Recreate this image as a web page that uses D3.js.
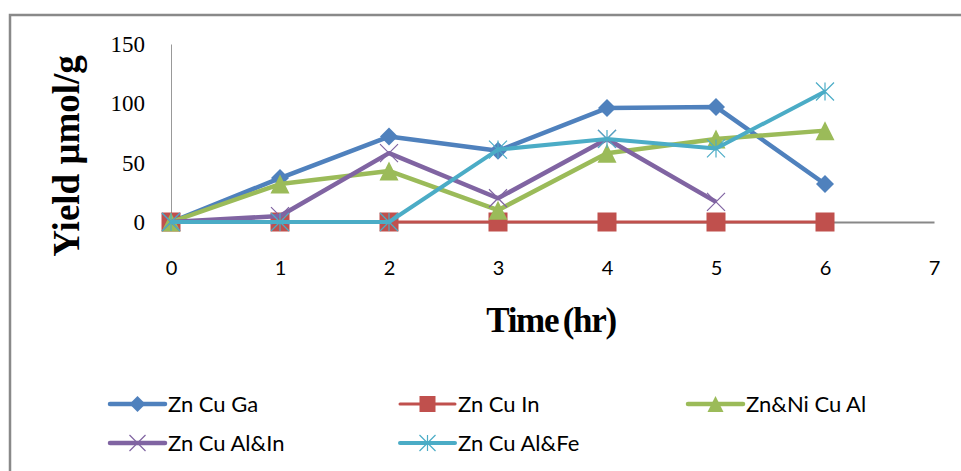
<!DOCTYPE html>
<html><head><meta charset="utf-8">
<script src="https://cdn.jsdelivr.net/npm/d3@7"></script>
<style>body{margin:0;background:#fff;}svg{display:block;}</style>
</head><body>
<script>
const times = [0,1,2,3,4,5,6];
const xTicks = [0,1,2,3,4,5,6,7];
const yTicks = [0,50,100,150];
const seriesNames = ["Zn Cu Ga","Zn Cu In","Zn&Ni Cu Al","Zn Cu Al&In","Zn Cu Al&Fe"];
const znCuGa   = [0,37,72,60,96,97,32];
const znCuIn   = [0,0,0,0,0,0,0];
const znNiCuAl = [0,32,43,10,58,70,77];
const znCuAlIn = [0,5,58,20,70,17];
const znCuAlFe = [0,0,0,61,70,62,110];
const colors = ["#4F81BD","#C0504D","#9BBB59","#8064A2","#4BACC6"];
const markers = ["diamond","square","triangle","x","star"];
const widths = [4.5,3,4.5,4.5,4];

const W=961,H=471;
const svg=d3.select("body").append("svg").attr("width",W).attr("height",H);
svg.append("path").attr("d","M10,472 L10,15 L962,15").attr("fill","none").attr("stroke","#898989").attr("stroke-width",2.5);

const x=d3.scaleLinear().domain([0,7]).range([171,934]);
const y=d3.scaleLinear().domain([0,150]).range([222,44]);

const yAx=svg.append("g").attr("transform","translate(171,0)").call(d3.axisLeft(y).tickValues(yTicks).tickFormat(d3.format("d")).tickSize(0).tickPadding(26));
yAx.select(".domain").attr("stroke","#999").attr("stroke-width",1);
yAx.selectAll("text").attr("font-family","Liberation Serif").attr("font-size",23).attr("fill","#000");
const xAx=svg.append("g").attr("transform","translate(0,222)").call(d3.axisBottom(x).tickValues(xTicks).tickFormat(d3.format("d")).tickSize(0).tickPadding(39));
xAx.select(".domain").attr("stroke","#888").attr("stroke-width",2);
xAx.selectAll("text").attr("font-family","Lato").attr("font-size",20).attr("fill","#000");

svg.append("text").attr("transform","translate(79,156) rotate(-90)").attr("text-anchor","middle")
  .attr("font-family","Liberation Serif").attr("font-weight","bold").attr("font-size",37).text("Yield μmol/g");
svg.append("text").attr("x",551).attr("y",332).attr("text-anchor","middle")
  .attr("font-family","Liberation Serif").attr("font-weight","bold").attr("font-size",35).attr("letter-spacing",-1.3).attr("word-spacing",-3).text("Time (hr)");

const data=[znCuGa,znCuIn,znNiCuAl,znCuAlIn,znCuAlFe];
function drawMarker(g,type,cx,cy,col,s){
  if(type==="diamond"){
    g.append("path").attr("d",`M${cx},${cy-s/2}L${cx+s/2},${cy}L${cx},${cy+s/2}L${cx-s/2},${cy}Z`).attr("fill",col);
  } else if(type==="square"){
    g.append("rect").attr("x",cx-s/2).attr("y",cy-s/2).attr("width",s).attr("height",s).attr("fill",col);
  } else if(type==="triangle"){
    g.append("path").attr("d",`M${cx},${cy-s/2}L${cx+s/2},${cy+s/2}L${cx-s/2},${cy+s/2}Z`).attr("fill",col);
  } else if(type==="x"){
    const h=s/2;
    g.append("path").attr("d",`M${cx-h},${cy-h}L${cx+h},${cy+h}M${cx-h},${cy+h}L${cx+h},${cy-h}`).attr("stroke",col).attr("stroke-width",1.2);
  } else {
    const h=s/2;
    g.append("path").attr("d",`M${cx-h},${cy-h}L${cx+h},${cy+h}M${cx-h},${cy+h}L${cx+h},${cy-h}M${cx},${cy-h}L${cx},${cy+h}`).attr("stroke",col).attr("stroke-width",1.2);
  }
}
const sizes=[18,19,19,18,18];
const line=d3.line().x((d,i)=>x(times[i])).y(d=>y(d));
data.forEach((vals,k)=>{
  const g=svg.append("g");
  g.append("path").attr("d",line(vals)).attr("fill","none").attr("stroke",colors[k]).attr("stroke-width",widths[k]).attr("stroke-linejoin","round");
  vals.forEach((v,i)=>drawMarker(g,markers[k],x(times[i]),y(v),colors[k],sizes[k]));
});

const legPos=[[110,404],[400,404],[688,404],[110,443],[400,443]];
seriesNames.forEach((n,k)=>{
  const [lx,ly]=legPos[k];
  const g=svg.append("g");
  g.append("line").attr("x1",lx).attr("x2",lx+55).attr("y1",ly).attr("y2",ly).attr("stroke",colors[k]).attr("stroke-width",widths[k]).attr("stroke-linecap","round");
  drawMarker(g,markers[k],lx+27.5,ly,colors[k],16);
  g.append("text").attr("x",lx+58).attr("y",ly).attr("dy","0.36em").attr("font-family","Lato").attr("font-size",22).text(n);
});
</script>
</body></html>
